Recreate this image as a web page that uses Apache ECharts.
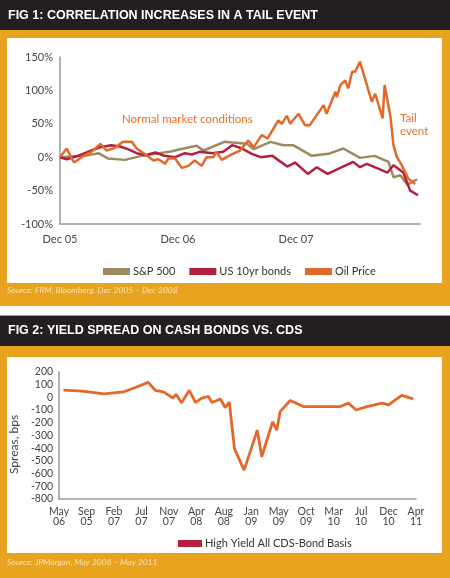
<!DOCTYPE html>
<html style="height: 100%">
<head>
    <meta charset="utf-8">
    <title>Tail event / CDS basis</title>
</head>
<body style="height: 100%; margin: 0">
<div id="container" style="width: 450px; height: 578px"></div>

<script src="https://cdn.jsdelivr.net/npm/echarts@6/dist/echarts.min.js"></script>
<script type="text/javascript">
// Fig 1: months after Dec 05, % change
var fig1Ticks = ['Dec 05', 'Dec 06', 'Dec 07'];
var sp500 = [[0,0],[2.5,2],[3.9,6],[4.9,-2],[6.6,-4],[8.3,2],[9.7,5],[11.4,9],[12.2,12],[13.9,17],[14.6,10],[16.7,23],[19,20],[19.7,12],[21.4,23],[22.7,18],[23.7,18],[25.6,2],[27.3,5],[28.8,13],[30.5,-1],[32,2],[33.4,-7],[33.9,-30],[34.6,-27],[35.3,-41],[36.3,-33]];
var bonds10y = [[0,0],[0.7,-3],[2,3],[3.2,10],[4.1,15],[5.2,18],[6.1,16],[6.9,12],[7.8,6],[8.7,3],[9.7,7],[10.6,2],[11.7,0],[12.7,6],[13.4,4],[14.2,8],[15.5,6],[16.6,8],[17.5,18],[18.5,13],[19.5,5],[20.4,0],[21.6,2],[23.1,-14],[23.9,-8],[25.2,-25],[26.1,-15],[27.2,-25],[29.8,-7],[30.5,-15],[31.2,-10],[33.3,-23],[33.9,-12],[34.9,-23],[35.6,-50],[36.4,-57]];
var oilPrice = [[0,0],[0.68,13],[1.42,-8],[2.2,0],[3.2,8],[4.1,20],[4.75,10],[5.6,14],[6.4,23],[7.3,23],[7.8,13],[8.8,3],[9.5,-5],[10,-3],[10.7,-10],[11,-2],[11.7,-2],[12.4,-16],[13.05,-13],[13.7,-5],[14.4,-13],[14.9,0],[15.6,0],[15.9,8],[16.45,-4],[17.3,3],[18.3,10],[19.15,25],[19.7,15],[20.5,33],[21.1,28],[22.2,55],[22.55,50],[23.05,62],[23.4,50],[24.25,65],[24.9,48],[25.4,48],[26.8,78],[27.1,65],[28,98],[28.15,90],[28.5,108],[29,115],[29.3,103],[29.7,128],[30,128],[30.5,143],[31.7,83],[32.05,95],[32.8,58],[33,108],[33.6,60],[33.9,18],[34.25,0],[34.75,-12],[35.4,-32],[36.1,-40]];

// Fig 2: position in tick units, bps
var fig2Ticks = ['May\n06','Sep\n05','Feb\n07','Jul\n07','Nov\n07','Apr\n08','Aug\n08','Jan\n09','May\n09','Oct\n09','Mar\n10','Jul\n10','Dec\n10','Apr\n11'];
var cdsBasis = [[0.16,58],[0.84,50],[1.64,27],[2.34,43],[2.8,80],[3.25,118],[3.5,56],[3.8,43],[4.15,-5],[4.26,24],[4.46,-42],[4.74,55],[4.97,-40],[5.2,-5],[5.44,8],[5.57,-40],[5.87,-12],[6.05,-80],[6.2,-37],[6.39,-405],[6.74,-573],[7.22,-258],[7.38,-467],[7.78,-192],[7.93,-258],[8.05,-112],[8.42,-24],[8.9,-72],[10.24,-72],[10.54,-45],[10.82,-99],[11.21,-72],[11.76,-45],[12.0,-59],[12.48,16],[12.9,-11]];

var orange = '#e8a31f', dark = '#231f20';
var font = 'Lato';
var myChart = echarts.init(document.getElementById('container'));

var option = {
    backgroundColor: '#ffffff',
    animation: false,
    textStyle: { fontFamily: font },
    graphic: [
        { type: 'rect', shape: { x: 0, y: 0, width: 450, height: 30 }, style: { fill: dark } },
        { type: 'rect', shape: { x: 0, y: 30, width: 450, height: 276 }, style: { fill: orange } },
        { type: 'rect', shape: { x: 7, y: 38, width: 435, height: 245 }, style: { fill: '#fff' } },
        { type: 'rect', shape: { x: 0, y: 315, width: 450, height: 1 }, style: { fill: '#9a9a9a' } },
        { type: 'rect', shape: { x: 0, y: 316, width: 450, height: 30 }, style: { fill: dark } },
        { type: 'rect', shape: { x: 0, y: 346, width: 450, height: 232 }, style: { fill: orange } },
        { type: 'rect', shape: { x: 7, y: 357, width: 435, height: 196 }, style: { fill: '#fff' } },
        { type: 'text', left: 8, top: 9, style: { text: 'FIG 1: CORRELATION INCREASES IN A TAIL EVENT', fill: '#fff', font: 'bold 12.5px "Liberation Sans"' } },
        { type: 'text', left: 8, top: 324, style: { text: 'FIG 2: YIELD SPREAD ON CASH BONDS VS. CDS', fill: '#fff', font: 'bold 12.5px "Liberation Sans"' } },
        { type: 'text', left: 7, top: 286, style: { text: 'Source: FRM, Bloomberg. Dec 2005 \u2013 Dec 2008', fill: '#fbe2b4', font: 'italic 8.5px ' + font } },
        { type: 'text', left: 7, top: 558, style: { text: 'Source: JPMorgan, May 2006 \u2013 May 2011', fill: '#fbe2b4', font: 'italic 8.5px ' + font } },
        { type: 'text', left: 122, top: 113, style: { text: 'Normal market conditions', fill: '#e8702a', font: '11.5px ' + font } },
        { type: 'text', left: 400, top: 112, style: { text: 'Tail\nevent', fill: '#e8702a', font: '11.5px ' + font, align: 'center', lineHeight: 13 } }
    ],
    legend: [
        {
            left: 98, top: 261, itemWidth: 27, itemHeight: 7, itemGap: 14, icon: 'rect',
            textStyle: { fontSize: 11, color: '#333', fontFamily: font, padding: [0, 0, 0, -2] },
            data: ['S&P 500', 'US 10yr bonds', 'Oil Price']
        },
        {
            left: 173, top: 533, itemWidth: 24, itemHeight: 7, icon: 'rect',
            textStyle: { fontSize: 11, color: '#333', fontFamily: font, padding: [0, 0, 0, -2] },
            data: [{ name: 'High Yield All CDS-Bond Basis', itemStyle: { color: '#b5203f' } }]
        }
    ],
    grid: [
        { left: 60, right: 30, top: 57, bottom: 354 },
        { left: 59, right: 34, top: 372, bottom: 79 }
    ],
    xAxis: [
        {
            type: 'value', gridIndex: 0, min: 0, max: 36.6, interval: 12,
            splitLine: { show: false }, axisTick: { show: false },
            axisLine: { onZero: false, lineStyle: { color: '#999', width: 1.5 } },
            axisLabel: { color: '#444', fontSize: 11, margin: 10, showMaxLabel: false,
                formatter: function (v) { return fig1Ticks[v / 12] || ''; } }
        },
        {
            type: 'value', gridIndex: 1, min: 0, max: 13, interval: 1,
            splitLine: { show: false }, axisTick: { show: false },
            axisLine: { onZero: false, lineStyle: { color: '#999', width: 1.5 } },
            axisLabel: { color: '#444', fontSize: 10.5, margin: 8, lineHeight: 10,
                formatter: function (v) { return fig2Ticks[v] || ''; } }
        }
    ],
    yAxis: [
        {
            type: 'value', gridIndex: 0, min: -100, max: 150, interval: 50,
            splitLine: { show: false }, axisTick: { show: false },
            axisLine: { show: true, onZero: false, lineStyle: { color: '#999', width: 1.5 } },
            axisLabel: { color: '#444', fontSize: 11, margin: 7, formatter: '{value}%' }
        },
        {
            type: 'value', gridIndex: 1, min: -800, max: 200, interval: 100,
            splitLine: { show: false }, axisTick: { show: false },
            axisLine: { show: true, onZero: false, lineStyle: { color: '#999', width: 1.5 } },
            axisLabel: { color: '#444', fontSize: 10.5, margin: 6 },
            name: 'Spreas, bps', nameLocation: 'middle', nameRotate: 90, nameGap: 32,
            nameTextStyle: { color: '#444', fontSize: 12, padding: [0, 0, 0, -18] }
        }
    ],
    series: [
        { name: 'S&P 500', type: 'line', xAxisIndex: 0, yAxisIndex: 0, data: sp500, showSymbol: false,
          itemStyle: { color: '#9c8b60' }, lineStyle: { width: 2.5, color: '#9c8b60' } },
        { name: 'US 10yr bonds', type: 'line', xAxisIndex: 0, yAxisIndex: 0, data: bonds10y, showSymbol: false,
          itemStyle: { color: '#b31f3f' }, lineStyle: { width: 2.5, color: '#b31f3f' } },
        { name: 'Oil Price', type: 'line', xAxisIndex: 0, yAxisIndex: 0, data: oilPrice, showSymbol: false,
          itemStyle: { color: '#e2692a' }, lineStyle: { width: 2.5, color: '#e2692a' } },
        { name: 'High Yield All CDS-Bond Basis', type: 'line', xAxisIndex: 1, yAxisIndex: 1, data: cdsBasis, showSymbol: false,
          itemStyle: { color: '#e2692a' }, lineStyle: { width: 2.8, color: '#e2692a' } }
    ]
};
myChart.setOption(option);
</script>
</body>
</html>
